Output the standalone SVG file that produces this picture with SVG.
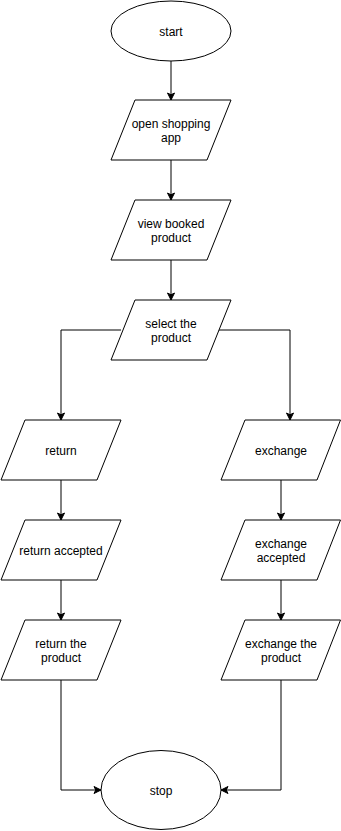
<svg xmlns="http://www.w3.org/2000/svg" width="341" height="831" viewBox="0 0 341 831">
  <style>
    .shape { fill: #ffffff; stroke: #000000; stroke-width: 1; }
    .label { font-family: "Liberation Sans", Arial, Helvetica, sans-serif; font-size: 12px; fill: #000000; text-anchor: middle; }
    .edge { fill: none; stroke: #000000; stroke-width: 1; }
  </style>
  <defs>
    <marker id="arrow" markerUnits="userSpaceOnUse" markerWidth="10" markerHeight="10" viewBox="-8 -5 10 10" refX="0" refY="0" orient="auto">
      <path d="M -7 -3.5 L 0 0 L -7 3.5 L -5.25 0 Z" fill="#000000" stroke="#000000" stroke-width="1"/>
    </marker>
  </defs>
  <rect x="0" y="0" width="341" height="831" fill="#ffffff"/>

  <!-- connectors -->
  <g id="edges">
    <path class="edge" d="M 171 61 L 171 100" marker-end="url(#arrow)"/>
    <path class="edge" d="M 171 160 L 171 200" marker-end="url(#arrow)"/>
    <path class="edge" d="M 171 260 L 171 300" marker-end="url(#arrow)"/>
    <path class="edge" d="M 121 330 L 61 330 L 61 420" marker-end="url(#arrow)"/>
    <path class="edge" d="M 218 330 L 290 330 L 290 420" marker-end="url(#arrow)"/>
    <path class="edge" d="M 61 480 L 61 520" marker-end="url(#arrow)"/>
    <path class="edge" d="M 61 580 L 61 620" marker-end="url(#arrow)"/>
    <path class="edge" d="M 281 480 L 281 520" marker-end="url(#arrow)"/>
    <path class="edge" d="M 281 580 L 281 620" marker-end="url(#arrow)"/>
    <path class="edge" d="M 61 680 L 61 790 L 101 790" marker-end="url(#arrow)"/>
    <path class="edge" d="M 281 680 L 281 790 L 221 790" marker-end="url(#arrow)"/>
  </g>

  <!-- nodes -->
  <g id="start">
    <ellipse class="shape" cx="171" cy="31" rx="60" ry="30"/>
    <text class="label" x="171" y="35.5">start</text>
  </g>
  <g id="open-app">
    <polygon class="shape" points="135,100 231,100 207,160 111,160"/>
    <text class="label" x="171" y="127.5">open shopping</text>
    <text class="label" x="171" y="141.5">app</text>
  </g>
  <g id="view-booked">
    <polygon class="shape" points="135,200 231,200 207,260 111,260"/>
    <text class="label" x="171" y="227.5">view booked</text>
    <text class="label" x="171" y="241.5">product</text>
  </g>
  <g id="select-product">
    <polygon class="shape" points="135,300 231,300 207,360 111,360"/>
    <text class="label" x="171" y="327.5">select the</text>
    <text class="label" x="171" y="341.5">product</text>
  </g>
  <g id="return">
    <polygon class="shape" points="25,420 121,420 97,480 1,480"/>
    <text class="label" x="61" y="454.5">return</text>
  </g>
  <g id="exchange">
    <polygon class="shape" points="245,420 340.5,420 317,480 221,480"/>
    <text class="label" x="281" y="454.5">exchange</text>
  </g>
  <g id="return-accepted">
    <polygon class="shape" points="25,520 121,520 97,580 1,580"/>
    <text class="label" x="61" y="554.5">return accepted</text>
  </g>
  <g id="exchange-accepted">
    <polygon class="shape" points="245,520 340.5,520 317,580 221,580"/>
    <text class="label" x="281" y="547.5">exchange</text>
    <text class="label" x="281" y="561.5">accepted</text>
  </g>
  <g id="return-product">
    <polygon class="shape" points="25,620 121,620 97,680 1,680"/>
    <text class="label" x="61" y="647.5">return the</text>
    <text class="label" x="61" y="661.5">product</text>
  </g>
  <g id="exchange-product">
    <polygon class="shape" points="245,620 340.5,620 317,680 221,680"/>
    <text class="label" x="281" y="647.5">exchange the</text>
    <text class="label" x="281" y="661.5">product</text>
  </g>
  <g id="stop">
    <ellipse class="shape" cx="161" cy="790" rx="60" ry="39.5"/>
    <text class="label" x="161" y="794.5">stop</text>
  </g>
</svg>
